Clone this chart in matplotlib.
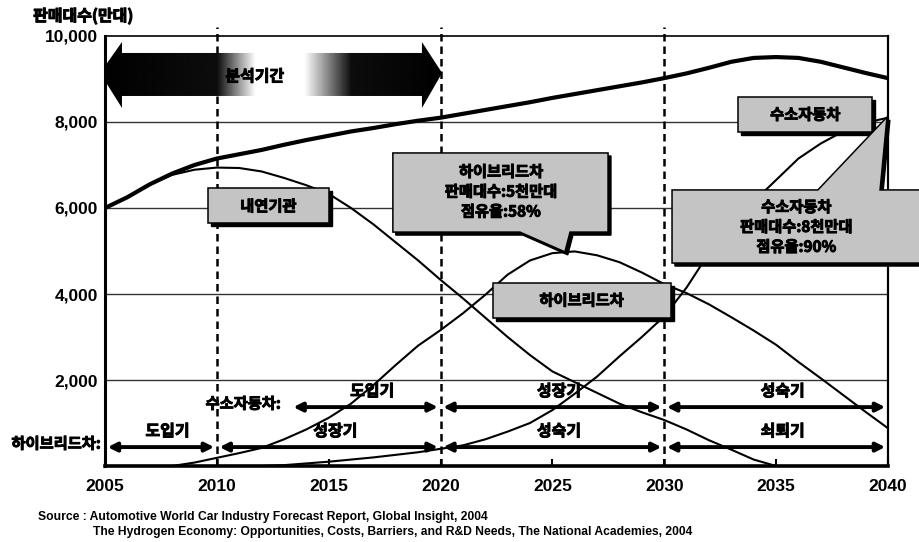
import numpy as np
import matplotlib
matplotlib.use("Agg")
import matplotlib.pyplot as plt
import matplotlib.patheffects as pe
from matplotlib.patches import Polygon

plt.rcParams['font.family'] = ['Noto Sans CJK KR', 'DejaVu Sans']

# 판매대수 (만대), 값은 그림에서 읽음
total_years = list(range(2005, 2041))
total = [6000, 6250, 6550, 6800, 7000, 7150, 7250, 7350, 7470, 7580,
         7680, 7780, 7860, 7950, 8030, 8100, 8190, 8280, 8370, 8460,
         8560, 8650, 8740, 8830, 8920, 9020, 9130, 9260, 9400, 9490,
         9510, 9490, 9400, 9270, 9140, 9020]

ice_years = list(range(2005, 2036))
ice = [6000, 6250, 6540, 6770, 6890, 6940, 6930, 6850, 6700, 6530,
       6330, 6000, 5620, 5200, 4780, 4330, 3900, 3450, 3000, 2580,
       2200, 1950, 1700, 1450, 1250, 1070, 850, 600, 380, 150, 0]

hybrid_years = list(range(2008, 2041))
hybrid = [0, 80, 190, 300, 420, 620, 850, 1120, 1450, 1880,
          2350, 2800, 3160, 3550, 3980, 4450, 4780, 4950, 4990, 4900,
          4740, 4500, 4230, 4020, 3760, 3460, 3150, 2820, 2420, 2040,
          1650, 1260, 880]

h2_years = list(range(2012, 2041))
h2 = [0, 20, 60, 100, 150, 200, 260, 320, 400, 480,
      620, 800, 1000, 1300, 1680, 2080, 2550, 3000, 3480, 4150,
      4950, 5650, 6150, 6650, 7150, 7500, 7780, 7980, 8100]

x_ticks = [2005, 2010, 2015, 2020, 2025, 2030, 2035, 2040]
y_ticks = [2000, 4000, 6000, 8000, 10000]
period_lines = [2010, 2020, 2030]

hybrid_bounds = [2005, 2010, 2020, 2030, 2040]
hybrid_phases = ['도입기', '성장기', '성숙기', '쇠퇴기']
h2_bounds = [2013.3, 2020, 2030, 2040]
h2_phases = ['도입기', '성장기', '성숙기']

# thicker strokes so the Korean text looks heavy like the original
heavy = [pe.withStroke(linewidth=0.7, foreground='black')]

fig = plt.figure(figsize=(9.2, 5.42), dpi=100)
ax = fig.add_axes([0.1141, 0.1402, 0.851, 0.7934])
ax.set_xlim(2005, 2040)
ax.set_ylim(0, 10000)

# grid and frame
for y in y_ticks[:-1]:
    ax.axhline(y, color='#333333', lw=1.0, zorder=1)
for x in period_lines:
    ax.plot([x, x], [0, 10220], color='black', lw=1.8, ls=(0, (3, 2)),
            clip_on=False, zorder=2)
ax.spines['left'].set_linewidth(2.2)
ax.spines['bottom'].set_linewidth(2.6)
ax.spines['right'].set_linewidth(1.6)
ax.spines['top'].set_linewidth(1.2)

ax.set_xticks(x_ticks)
ax.set_xticklabels([str(x) for x in x_ticks], family='Liberation Sans',
                   fontweight='bold', fontsize=12.5)
ax.set_yticks(y_ticks)
ax.set_yticklabels([f'{y:,}' for y in y_ticks], family='Liberation Sans',
                   fontweight='bold', fontsize=12.5)
ax.tick_params(axis='x', direction='in', length=5, width=1.5, pad=9)
ax.tick_params(axis='y', length=0, pad=5)

fig.text(0.036, 0.971, '판매대수(만대)', fontsize=11.5, fontweight='bold',
         va='center', ha='left', path_effects=heavy)

# curves
ax.plot(total_years, total, color='black', lw=3.0, zorder=4)
ax.plot(ice_years, ice, color='black', lw=1.5, zorder=4)
ax.plot(hybrid_years, hybrid, color='black', lw=1.5, zorder=4)
ax.plot(h2_years, h2, color='black', lw=1.5, zorder=4)

# 분석기간 gradient arrow
arrow_pts = [(2004.78, 9140), (2005.76, 9860), (2005.76, 9605), (2019.17, 9605),
             (2019.17, 9860), (2020.07, 9140), (2019.17, 8326), (2019.17, 8605),
             (2005.76, 8605), (2005.76, 8326)]
clip = Polygon(arrow_pts, closed=True, facecolor='none', edgecolor='none',
               transform=ax.transData)
ax.add_patch(clip)
gx = np.linspace(2004.78, 2020.07, 400)
shade = np.interp(gx, [2004.78, 2010.0, 2011.7, 2013.9, 2016.0, 2020.07],
                  [0.0, 0.05, 1.0, 1.0, 0.05, 0.0])
img = ax.imshow(shade[np.newaxis, :], cmap='gray', vmin=0, vmax=1,
                extent=[2004.78, 2020.07, 8326, 9860], aspect='auto',
                zorder=3, interpolation='bilinear')
img.set_clip_path(clip)
ax.text(2011.7, 9060, '분석기간', fontsize=11.5, fontweight='bold',
        ha='center', va='center', zorder=5, path_effects=heavy)

ax.set_xlim(2005, 2040)
ax.set_ylim(0, 10000)

# label boxes
BOX = '#c4c4c4'
DX, DY = 0.13, 70


def draw_shape(pts, text, tx, ty):
    shadow = Polygon([(px + DX, py - DY) for px, py in pts], closed=True,
                     facecolor='black', edgecolor='black', lw=1,
                     clip_on=False, zorder=6)
    face = Polygon(pts, closed=True, facecolor=BOX, edgecolor='black',
                   lw=1.1, clip_on=False, zorder=7)
    ax.add_patch(shadow)
    ax.add_patch(face)
    ax.text(tx, ty, text, fontsize=11, fontweight='bold', ha='center',
            va='center', linespacing=1.3, zorder=8, clip_on=False,
            path_effects=heavy)


def rect(x0, x1, y0, y1):
    return [(x0, y0), (x0, y1), (x1, y1), (x1, y0)]


draw_shape(rect(2009.6, 2015.0, 5650, 6460), '내연기관', 2012.3, 6040)
draw_shape(rect(2022.35, 2030.3, 3450, 4250), '하이브리드차', 2026.3, 3850)
draw_shape(rect(2033.3, 2039.3, 7770, 8580), '수소자동차', 2036.3, 8170)

hy_call = [(2017.87, 7280), (2027.49, 7280), (2027.49, 5440), (2025.79, 5440),
           (2025.56, 4980), (2023.55, 5440), (2017.87, 5440)]
draw_shape(hy_call, '하이브리드차\n판매대수:5천만대\n점유율:58%', 2022.7, 6380)

h2_call = [(2030.35, 4720), (2030.35, 6420), (2036.87, 6420), (2039.96, 8116),
           (2039.65, 6420), (2041.6, 6420), (2041.6, 4720)]
draw_shape(h2_call, '수소자동차\n판매대수:8천만대\n점유율:90%', 2035.9, 5560)


# phase arrows
def phase_row(bounds, names, y_arrow, y_text, label, label_x):
    for b, e, name in zip(bounds[:-1], bounds[1:], names):
        ax.annotate('', xy=(e - 0.12, y_arrow), xytext=(b + 0.12, y_arrow),
                    arrowprops=dict(arrowstyle='<|-|>', color='black', lw=2.8,
                                    mutation_scale=13, shrinkA=0, shrinkB=0),
                    zorder=5, annotation_clip=False)
        ax.text((b + e) / 2 + 0.3, y_text, name, fontsize=11.5,
                fontweight='bold', ha='center', va='center', zorder=5,
                path_effects=heavy)
    ax.text(label_x, y_arrow + 80, label, fontsize=11, fontweight='bold',
            ha='right', va='center', zorder=5, clip_on=False,
            path_effects=heavy)


phase_row(h2_bounds, h2_phases, 1370, 1740, '수소자동차:', 2012.85)
phase_row(hybrid_bounds, hybrid_phases, 440, 810, '하이브리드차:', 2004.8)

fig.text(0.041, 0.046,
         'Source : Automotive World Car Industry Forecast Report, Global Insight, 2004',
         family='Liberation Sans', fontweight='bold', fontsize=8.7, va='center')
fig.text(0.101, 0.018,
         'The Hydrogen Economy: Opportunities, Costs, Barriers, and R&D Needs, '
         'The National Academies, 2004',
         family='Liberation Sans', fontweight='bold', fontsize=8.7, va='center')

fig.savefig('out.png', dpi=100)
